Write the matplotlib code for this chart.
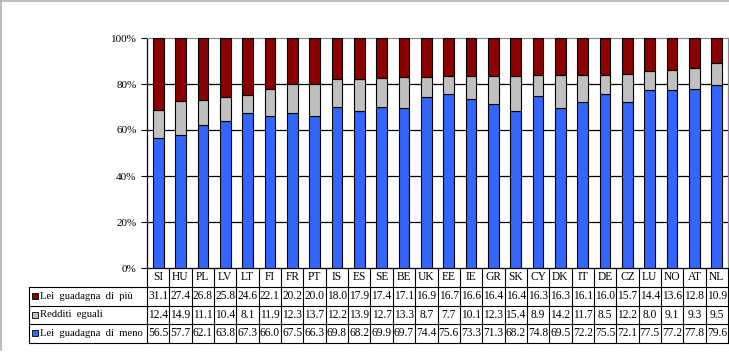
import matplotlib
matplotlib.use("Agg")
import matplotlib.pyplot as plt
from matplotlib.lines import Line2D
from matplotlib.patches import Rectangle
import matplotlib.transforms as mtransforms

countries = ["SI", "HU", "PL", "LV", "LT", "FI", "FR", "PT", "IS", "ES", "SE", "BE", "UK",
             "EE", "IE", "GR", "SK", "CY", "DK", "IT", "DE", "CZ", "LU", "NO", "AT", "NL"]
lei_piu = [31.1, 27.4, 26.8, 25.8, 24.6, 22.1, 20.2, 20.0, 18.0, 17.9, 17.4, 17.1, 16.9,
           16.7, 16.6, 16.4, 16.4, 16.3, 16.3, 16.1, 16.0, 15.7, 14.4, 13.6, 12.8, 10.9]
eguali = [12.4, 14.9, 11.1, 10.4, 8.1, 11.9, 12.3, 13.7, 12.2, 13.9, 12.7, 13.3, 8.7,
          7.7, 10.1, 12.3, 15.4, 8.9, 14.2, 11.7, 8.5, 12.2, 8.0, 9.1, 9.3, 9.5]
lei_meno = [56.5, 57.7, 62.1, 63.8, 67.3, 66.0, 67.5, 66.3, 69.8, 68.2, 69.9, 69.7, 74.4,
            75.6, 73.3, 71.3, 68.2, 74.8, 69.5, 72.2, 75.5, 72.1, 77.5, 77.2, 77.8, 79.6]
series_labels = ["Lei  guadagna  di  più", "Redditi  eguali", "Lei  guadagna  di  meno"]
yticks = [0, 20, 40, 60, 80, 100]
ytick_labels = ["0%", "20%", "40%", "60%", "80%", "100%"]

c_red = "#8B0000"
c_gray = "#C0C0C0"
c_blue = "#3366FF"

plt.rcParams['font.family'] = ['Liberation Serif', 'DejaVu Serif']
fs_tick = 8
fs_num = 8.3
fs_lab = 7.7

W, H = 729, 355
fig = plt.figure(figsize=(W / 100, H / 100), dpi=100)
ax_l, ax_r, ax_t, ax_b = 147, 728, 38, 268
ax = fig.add_axes([ax_l / W, (H - ax_b) / H, (ax_r - ax_l) / W, (ax_b - ax_t) / H])

n = len(countries)
x = list(range(n))
bw = 0.48
ax.bar(x, lei_meno, bw, color=c_blue, edgecolor="black", linewidth=0.8, zorder=3)
ax.bar(x, eguali, bw, bottom=lei_meno, color=c_gray, edgecolor="black", linewidth=0.8, zorder=3)
bott2 = [a + b for a, b in zip(lei_meno, eguali)]
ax.bar(x, lei_piu, bw, bottom=bott2, color=c_red, edgecolor="black", linewidth=0.8, zorder=3)

ax.set_xlim(-0.5, n - 0.5)
ax.set_ylim(0, 100)
ax.set_yticks(yticks)
ax.set_yticklabels(ytick_labels, fontsize=fs_tick)
ax.set_xticks([])
ax.tick_params(axis='y', direction='out', length=4.5, width=0.8, pad=3)
for yv in yticks[1:-1]:
    ax.axhline(yv, color="black", linewidth=0.9, zorder=1)
ax.spines['left'].set_color("black")
ax.spines['bottom'].set_color("black")
ax.spines['left'].set_linewidth(0.9)
ax.spines['bottom'].set_linewidth(0.9)
ax.spines['top'].set_color("#8c8c8c")
ax.spines['right'].set_color("#8c8c8c")
ax.spines['top'].set_linewidth(0.9)
ax.spines['right'].set_linewidth(0.9)

trans = mtransforms.blended_transform_factory(ax.transData, ax.transAxes)
ah = ax_b - ax_t
def ya(ypix):
    return (ax_b - ypix) / ah

row_edges = [ya(268), ya(287), ya(305.5), ya(324), ya(342.5)]
px_per_data = (ax_r - ax_l) / n
label_left = -0.5 - (ax_l - 29) / px_per_data
lw = 0.8
kw = dict(transform=trans, clip_on=False, color="black", linewidth=lw)

for yy in row_edges[1:]:
    ax.add_line(Line2D([label_left, n - 0.5], [yy, yy], **kw))
for i in range(n + 1):
    xx = i - 0.5
    ax.add_line(Line2D([xx, xx], [row_edges[0], row_edges[-1]], **kw))
ax.add_line(Line2D([label_left, label_left], [row_edges[1], row_edges[-1]], **kw))

for i, c in enumerate(countries):
    ax.text(i, (row_edges[0] + row_edges[1]) / 2, c, transform=trans, ha="center",
            va="center", fontsize=fs_num, clip_on=False)

rows = [lei_piu, eguali, lei_meno]
colors = [c_red, c_gray, c_blue]
sq = 6 / px_per_data
for r, (vals, lab, col) in enumerate(zip(rows, series_labels, colors)):
    yc = (row_edges[r + 1] + row_edges[r + 2]) / 2
    for i, v in enumerate(vals):
        ax.text(i, yc, f"{v:.1f}", transform=trans, ha="center", va="center",
                fontsize=fs_num, clip_on=False)
    sqh = 6 / ah
    ax.add_patch(Rectangle((label_left + 3 / px_per_data, yc - sqh / 2), sq, sqh,
                           transform=trans, clip_on=False, facecolor=col,
                           edgecolor="black", linewidth=0.6))
    ax.text(label_left + 11 / px_per_data, yc, lab, transform=trans, ha="left",
            va="center", fontsize=fs_lab, clip_on=False)

fig.add_artist(Line2D([0, 1], [1 - 1 / H, 1 - 1 / H], transform=fig.transFigure,
                      color="#b0b0b0", linewidth=1.2))
fig.add_artist(Line2D([1 / W, 1 / W], [5 / H, 1], transform=fig.transFigure,
                      color="#b0b0b0", linewidth=1.2))

fig.savefig("out.png", dpi=100)
